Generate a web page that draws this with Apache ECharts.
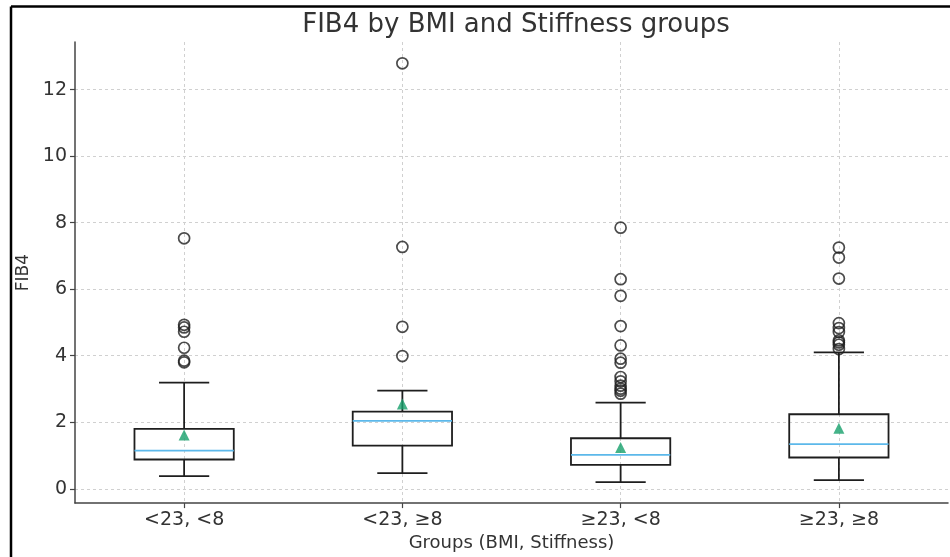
<!DOCTYPE html>
<html>
<head>
<meta charset="utf-8">
<script src="https://cdn.jsdelivr.net/npm/echarts@6/dist/echarts.min.js"></script>
<style>
  html, body { margin: 0; padding: 0; background: #fff; }
  #chart { width: 950px; height: 557px; }
</style>
</head>
<body>
<div id="chart"></div>
<script>
const groups = ["<23, <8", "<23, ≥8", "≥23, <8", "≥23, ≥8"];

// per group: lower whisker, Q1, median, Q3, upper whisker
const lowerWhisker = [0.38, 0.47, 0.20, 0.26];
const q1 = [0.88, 1.30, 0.72, 0.94];
const medians = [1.15, 2.04, 1.02, 1.34];
const q3 = [1.80, 2.32, 1.52, 2.24];
const upperWhisker = [3.19, 2.95, 2.59, 4.10];
const means = [1.62, 2.55, 1.24, 1.82];

const outliers = [
  [7.53, 4.93, 4.85, 4.72, 4.24, 3.85, 3.80],
  [12.79, 7.27, 4.87, 3.99],
  [7.85, 6.30, 5.80, 4.89, 4.31, 3.91, 3.79, 3.36, 3.23, 3.10, 3.01, 2.95, 2.86],
  [7.25, 6.95, 6.32, 4.98, 4.83, 4.71, 4.46, 4.40, 4.33, 4.20]
];

const yTicks = [0, 2, 4, 6, 8, 10, 12];
const xTicks = [1, 2, 3, 4];

const boxData = groups.map((g, i) => [i + 1, lowerWhisker[i], q1[i], medians[i], q3[i], upperWhisker[i]]);
const meanData = groups.map((g, i) => [i + 1, means[i]]);
const outlierData = [];
outliers.forEach((arr, i) => arr.forEach(v => outlierData.push([i + 1, v])));

const chart = echarts.init(document.getElementById("chart"));
const font = "DejaVu Sans";
const lineCol = "#1e1e1e";
const gridLine = { show: true, lineStyle: { color: "#d0d0d0", type: [3, 3], width: 1 } };

function renderBox(params, api) {
  const x = api.value(0);
  const pLow = api.coord([x, api.value(1)]);
  const pQ1 = api.coord([x, api.value(2)]);
  const pMed = api.coord([x, api.value(3)]);
  const pQ3 = api.coord([x, api.value(4)]);
  const pHigh = api.coord([x, api.value(5)]);
  const halfBox = api.size([0.455, 0])[0] / 2;
  const halfCap = api.size([0.23, 0])[0] / 2;
  const cx = pQ1[0];
  const ls = { stroke: lineCol, lineWidth: 1.8, fill: null };
  return {
    type: "group",
    children: [
      { type: "line", shape: { x1: cx, y1: pQ1[1], x2: cx, y2: pLow[1] }, style: ls },
      { type: "line", shape: { x1: cx, y1: pQ3[1], x2: cx, y2: pHigh[1] }, style: ls },
      { type: "line", shape: { x1: cx - halfCap, y1: pLow[1], x2: cx + halfCap, y2: pLow[1] }, style: ls },
      { type: "line", shape: { x1: cx - halfCap, y1: pHigh[1], x2: cx + halfCap, y2: pHigh[1] }, style: ls },
      { type: "rect", shape: { x: cx - halfBox, y: pQ3[1], width: halfBox * 2, height: pQ1[1] - pQ3[1] },
        style: { stroke: lineCol, lineWidth: 1.8, fill: "rgba(255,255,255,0)" } },
      { type: "line", shape: { x1: cx - halfBox, y1: pMed[1], x2: cx + halfBox, y2: pMed[1] },
        style: { stroke: "#5cb8ea", lineWidth: 1.8 } }
    ]
  };
}

chart.setOption({
  animation: false,
  backgroundColor: "#fff",
  title: {
    text: "FIB4 by BMI and Stiffness groups",
    left: 511,
    textAlign: "center",
    top: 7,
    textStyle: { fontFamily: font, fontSize: 26, fontWeight: "normal", color: "#333" }
  },
  grid: { left: 75, right: 2, top: 42, bottom: 52 },
  xAxis: {
    type: "value",
    min: 0.5,
    max: 4.5,
    name: "Groups (BMI, Stiffness)",
    nameLocation: "middle",
    nameGap: 29,
    nameTextStyle: { fontFamily: font, fontSize: 18, color: "#333" },
    axisLine: { onZero: false, lineStyle: { color: "#444", width: 1.5 } },
    axisTick: { show: true, customValues: xTicks, length: 5, lineStyle: { color: "#444", width: 1.2 } },
    axisLabel: {
      customValues: xTicks,
      margin: 7,
      fontFamily: font, fontSize: 19, color: "#333",
      formatter: v => groups[Math.round(v) - 1] || ""
    },
    splitLine: gridLine
  },
  yAxis: {
    type: "value",
    min: -0.43,
    max: 13.43,
    name: "FIB4",
    nameLocation: "middle",
    nameGap: 40,
    nameTextStyle: { fontFamily: font, fontSize: 17, color: "#333" },
    axisLine: { show: true, onZero: false, lineStyle: { color: "#444", width: 1.5 } },
    axisTick: { show: true, customValues: yTicks, length: 5, lineStyle: { color: "#444", width: 1.2 } },
    axisLabel: { customValues: yTicks, margin: 8, fontFamily: font, fontSize: 19, color: "#333" },
    splitLine: gridLine
  },
  graphic: [
    { type: "line", shape: { x1: 11, y1: 6.5, x2: 950, y2: 6.5 }, style: { stroke: "#000", lineWidth: 2.5 }, z: 100 },
    { type: "line", shape: { x1: 11, y1: 6.5, x2: 11, y2: 557 }, style: { stroke: "#000", lineWidth: 2.5 }, z: 100 }
  ],
  series: [
    {
      type: "custom",
      renderItem: renderBox,
      data: boxData,
      encode: { x: 0, y: [1, 2, 3, 4, 5] },
      z: 3
    },
    {
      type: "scatter",
      data: meanData,
      symbol: "triangle",
      symbolSize: 11,
      itemStyle: { color: "#17a06c" },
      z: 5
    },
    {
      type: "scatter",
      data: outlierData,
      symbol: "circle",
      symbolSize: 11,
      itemStyle: { color: "rgba(255,255,255,0)", borderColor: lineCol, borderWidth: 1.7 },
      z: 4
    }
  ]
});
</script>
</body>
</html>
